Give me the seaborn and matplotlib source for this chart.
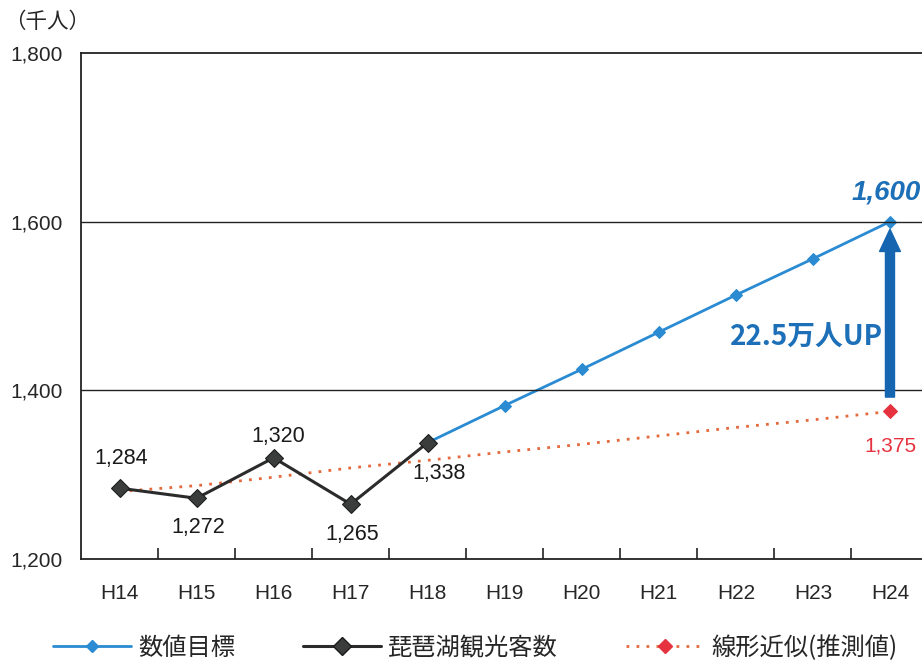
import numpy as np
import pandas as pd
import matplotlib.pyplot as plt
import seaborn as sns
from matplotlib.lines import Line2D

# data
years = ['H14', 'H15', 'H16', 'H17', 'H18', 'H19', 'H20', 'H21', 'H22', 'H23', 'H24']
actual = [1284, 1272, 1320, 1265, 1338]
target_years = ['H18', 'H19', 'H20', 'H21', 'H22', 'H23', 'H24']
target = [1338, 1382, 1425, 1469, 1513, 1556, 1600]
trend = [1280, 1287, 1297, 1308, 1317, 1327, 1336, 1346, 1356, 1365, 1375]
yticks = [1200, 1400, 1600, 1800]
legend_labels = ['数値目標', '琵琶湖観光客数', '線形近似(推測値)']

sns.set_theme(style='white')
plt.rcParams['font.family'] = ['Liberation Sans', 'Noto Sans CJK JP', 'DejaVu Sans']
jp = ['Noto Sans CJK JP', 'DejaVu Sans']

blue = '#2a8bd2'
blue_txt = '#1d70b8'
dark = '#2b2b2b'
red = '#e4693c'
red_mk = '#e5323e'

pos = {y: i for i, y in enumerate(years)}
df_act = pd.DataFrame({'x': [pos[y] for y in years[:5]], 'v': actual})
df_tgt = pd.DataFrame({'x': [pos[y] for y in target_years], 'v': target})
df_trd = pd.DataFrame({'x': [pos[y] for y in years], 'v': trend})

fig = plt.figure(figsize=(9.22, 6.62), dpi=100)
W, H = 922, 662
# axes run past the right edge of the picture, as in the original crop
ax = fig.add_axes([81 / W, 1 - 559 / H, (928.5 - 81) / W, (559 - 53) / H])

sns.lineplot(data=df_trd, x='x', y='v', ax=ax, color=red, lw=2, linestyle=(0, (1, 2.6)),
             marker='D', markevery=[len(trend) - 1], markersize=7, markerfacecolor=red_mk,
             markeredgecolor=red_mk)
sns.lineplot(data=df_tgt, x='x', y='v', ax=ax, color=blue, lw=2, marker='D', markersize=6,
             markerfacecolor=blue, markeredgecolor=blue)
sns.lineplot(data=df_act, x='x', y='v', ax=ax, color=dark, lw=2.2, marker='D', markersize=9.5,
             markerfacecolor='#3a3d3c', markeredgecolor='#1a1a1a')

ax.set_xlim(-0.5, len(years) - 0.5)
ax.set_ylim(1200, 1800)
ax.set_yticks(yticks)
ax.set_yticklabels([f'{v:,}' for v in yticks], fontsize=15)
ax.tick_params(axis='y', length=0, pad=13)
for v in yticks[1:3]:
    ax.axhline(v, color='#222222', lw=1)
ax.set_xticks(range(len(years)))
ax.set_xticklabels(years, fontsize=15)
ax.set_xticks(np.arange(0.5, len(years) - 0.5, 1), minor=True)
ax.tick_params(axis='x', which='major', length=0, pad=18)
ax.tick_params(axis='x', which='minor', direction='in', length=8, width=1.2, color='#222222', bottom=True)
ax.set_xlabel('')
ax.set_ylabel('')
for s in ['left', 'bottom', 'top', 'right']:
    ax.spines[s].set_color('#222222')
    ax.spines[s].set_linewidth(1.3)

# value labels for actual counts (offsets in points)
offs = [(1, 21), (1, -21), (3, 15), (1, -22), (8, -22)]
for i, (v, (dx, dy)) in enumerate(zip(actual, offs)):
    ax.annotate(f'{v:,}', (i, v), xytext=(dx, dy), textcoords='offset points',
                ha='center', va='center', fontsize=15.5, color='#1a1a1a')

ax.annotate(f'{target[-1]:,}', (10, target[-1]), xytext=(-3, 21), textcoords='offset points',
            ha='center', va='center', fontsize=20, color=blue_txt, fontweight='bold', style='italic')
ax.annotate(f'{trend[-1]:,}', (10, trend[-1]), xytext=(0, -25), textcoords='offset points',
            ha='center', va='center', fontsize=15, color=red_mk)
ax.annotate('', xy=(10, 1591), xytext=(10, 1392),
            arrowprops=dict(width=6.5, headwidth=15, headlength=16, color='#1565b0', shrink=0))
ax.text(9.91, 1462, '22.5万人UP', ha='right', va='center', fontsize=20, color=blue_txt,
        fontweight='bold', family=jp)

fig.text(4 / W, 1 - 22 / H, '（千人）', fontsize=15.5, va='center', ha='left', family=jp)

handles = [
    Line2D([], [], color=blue, lw=2, marker='D', markersize=6, markerfacecolor=blue),
    Line2D([], [], color=dark, lw=2.2, marker='D', markersize=9.5, markerfacecolor='#3a3d3c',
           markeredgecolor='#1a1a1a'),
    Line2D([], [], color=red, lw=2, linestyle=(0, (1, 2.6)), marker='D', markersize=7,
           markerfacecolor=red_mk, markeredgecolor=red_mk),
]
fig.legend(handles, legend_labels, ncol=3, frameon=False,
           loc='center left', bbox_to_anchor=(53 / W, 1 - 648 / H), handlelength=3.2,
           columnspacing=2.8, handletextpad=0.3, borderpad=0, borderaxespad=0,
           prop={'family': jp, 'size': 17.5})

fig.savefig('out.png', dpi=100)
